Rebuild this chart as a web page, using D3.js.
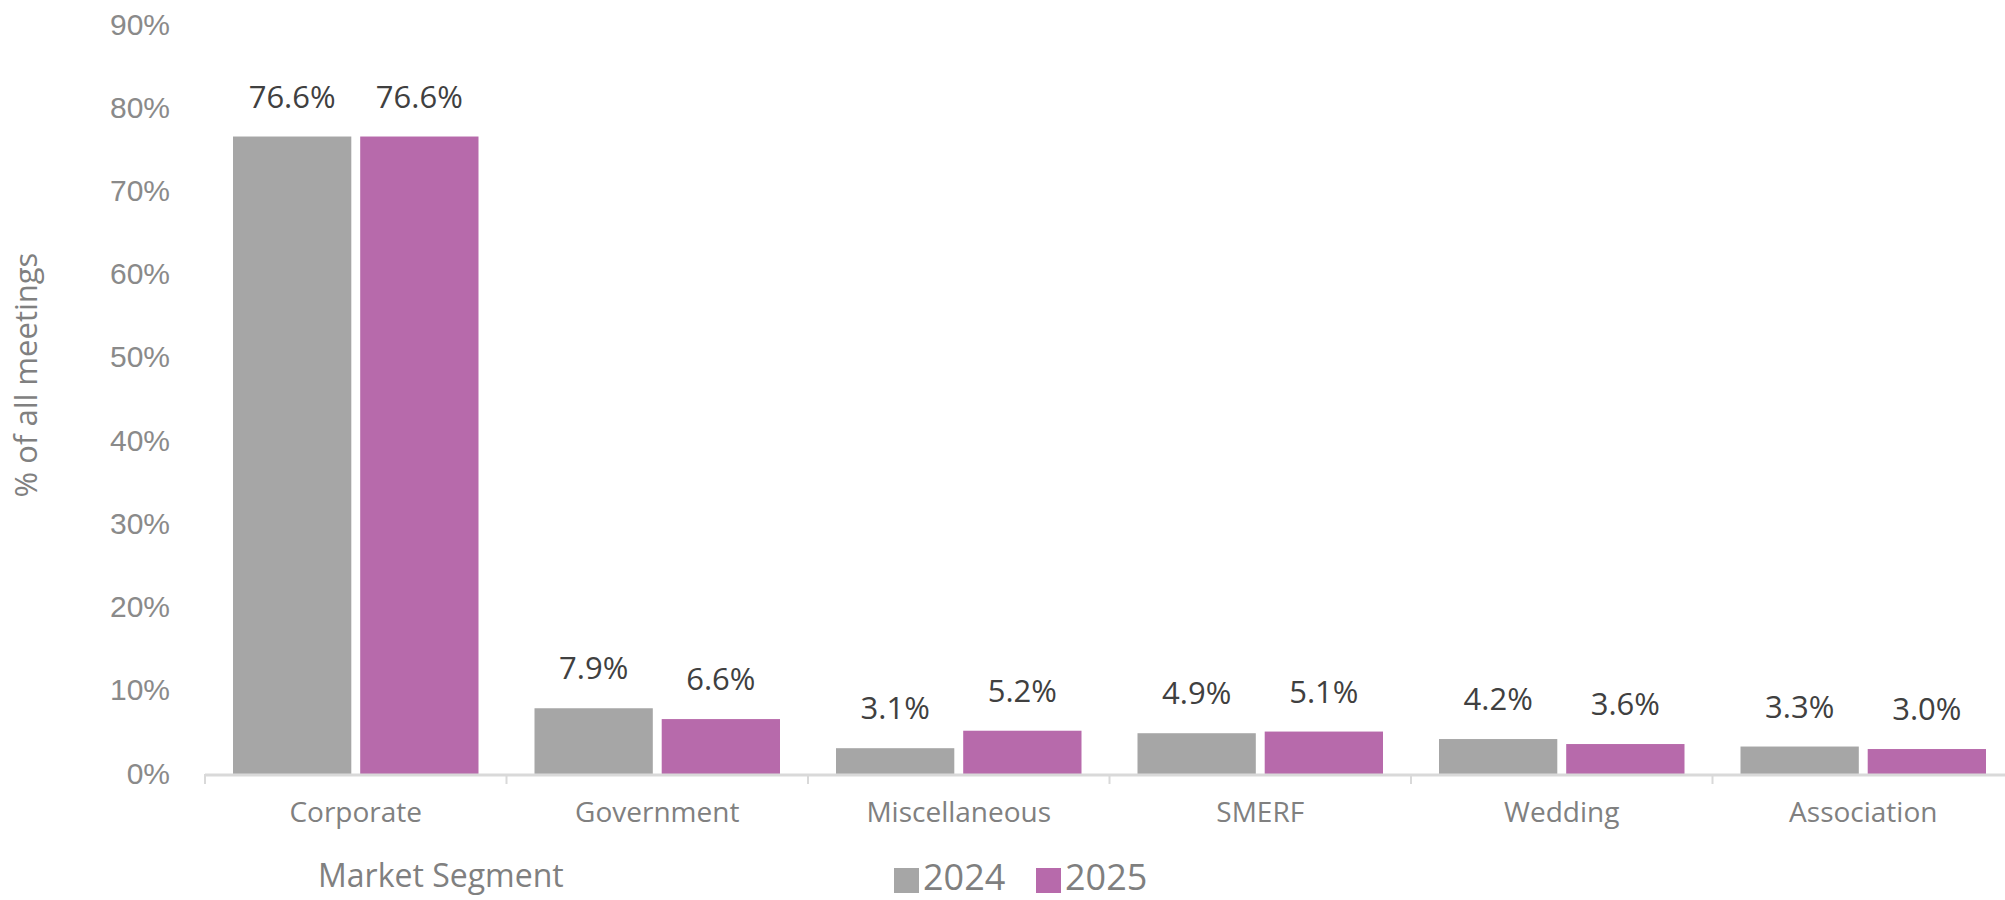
<!DOCTYPE html>
<html>

<head>
  <script type="text/javascript" src="https://d3js.org/d3.v7.min.js"></script>
  <style>
    body { margin: 0; background: #fff; }
    svg { display: block; font-family: "Open Sans", sans-serif; }
    .tick-label { fill: #8a8a8a; font-size: 30px; }
    .cat-label { fill: #808080; font-size: 28px; }
    .value-label { fill: #404040; font-size: 31px; }
    .axis-title { fill: #808080; font-size: 31px; }
    .legend-label { fill: #7f7f7f; font-size: 36px; }
  </style>
</head>

<body>
  <script>
    // chart data
    var segments = ["Corporate", "Government", "Miscellaneous", "SMERF", "Wedding", "Association"];
    var years = ["2024", "2025"];
    var values2024 = [76.6, 7.9, 3.1, 4.9, 4.2, 3.3];
    var values2025 = [76.6, 6.6, 5.2, 5.1, 3.6, 3.0];
    var yTicks = [0, 10, 20, 30, 40, 50, 60, 70, 80, 90];
    var colors = ["#a6a6a6", "#b76aab"];

    var width = 2005, height = 900;
    var seriesByYear = { "2024": values2024, "2025": values2025 };

    var svg = d3.select("body").append("svg")
      .attr("width", width)
      .attr("height", height);

    // scales
    var x0 = d3.scaleBand().domain(segments).range([205, 2014]);
    var x1 = d3.scaleBand().domain(years)
      .range([28, x0.bandwidth() - 28])
      .paddingInner(0.07);
    var y = d3.scaleLinear().domain([0, 90]).range([774, 25]);

    // y axis labels (no line, no grid)
    var yAxis = svg.append("g")
      .attr("transform", "translate(170,0)")
      .call(d3.axisLeft(y).tickValues(yTicks).tickSize(0).tickPadding(0)
        .tickFormat(function (d) { return d + "%"; }));
    yAxis.select(".domain").remove();
    yAxis.selectAll("text")
      .attr("class", "tick-label")
      .attr("fill", null)
      .attr("font-size", null)
      .attr("font-family", null)
      .attr("dy", "0.3em");

    // bars
    var groups = svg.append("g").selectAll("g")
      .data(segments)
      .join("g")
      .attr("transform", function (d) { return "translate(" + x0(d) + ",0)"; });

    groups.selectAll("rect")
      .data(function (d, i) {
        return years.map(function (yr) { return { year: yr, value: seriesByYear[yr][i] }; });
      })
      .join("rect")
      .attr("x", function (d) { return x1(d.year); })
      .attr("y", function (d) { return y(d.value); })
      .attr("width", x1.bandwidth())
      .attr("height", function (d) { return y(0) - y(d.value); })
      .attr("fill", function (d, i) { return colors[i]; });

    groups.selectAll("text")
      .data(function (d, i) {
        return years.map(function (yr) { return { year: yr, value: seriesByYear[yr][i] }; });
      })
      .join("text")
      .attr("class", "value-label")
      .attr("x", function (d) { return x1(d.year) + x1.bandwidth() / 2; })
      .attr("y", function (d) { return y(d.value) - 29; })
      .attr("text-anchor", "middle")
      .text(function (d) { return d.value.toFixed(1) + "%"; });

    // x axis line and category separators
    svg.append("line")
      .attr("x1", 205).attr("x2", width)
      .attr("y1", y(0) + 1).attr("y2", y(0) + 1)
      .attr("stroke", "#d9d9d9").attr("stroke-width", 3);

    var bounds = segments.map(function (d) { return x0(d); }).concat([x0.range()[1]]);
    svg.append("g").selectAll("line")
      .data(bounds)
      .join("line")
      .attr("x1", function (d) { return d; }).attr("x2", function (d) { return d; })
      .attr("y1", y(0)).attr("y2", y(0) + 10)
      .attr("stroke", "#d9d9d9").attr("stroke-width", 2);

    svg.append("g").selectAll("text")
      .data(segments)
      .join("text")
      .attr("class", "cat-label")
      .attr("x", function (d) { return x0(d) + x0.bandwidth() / 2; })
      .attr("y", 822)
      .attr("text-anchor", "middle")
      .text(function (d) { return d; });

    // axis titles
    svg.append("text")
      .attr("class", "axis-title")
      .attr("transform", "translate(37,375) rotate(-90)")
      .attr("text-anchor", "middle")
      .text("% of all meetings");

    svg.append("text")
      .attr("class", "axis-title")
      .attr("x", 318)
      .attr("y", 887)
      .style("font-size", "32px")
      .text("Market Segment");

    // legend (kept just inside the bottom edge)
    var legendX = [894, 1036];
    var legend = svg.append("g").selectAll("g")
      .data(years)
      .join("g")
      .attr("transform", function (d, i) { return "translate(" + legendX[i] + ",0)"; });
    legend.append("rect")
      .attr("x", 0).attr("y", 868)
      .attr("width", 25).attr("height", 25)
      .attr("fill", function (d, i) { return colors[i]; });
    legend.append("text")
      .attr("class", "legend-label")
      .attr("x", 29)
      .attr("y", 890)
      .text(function (d) { return d; });
  </script>
</body>

</html>
